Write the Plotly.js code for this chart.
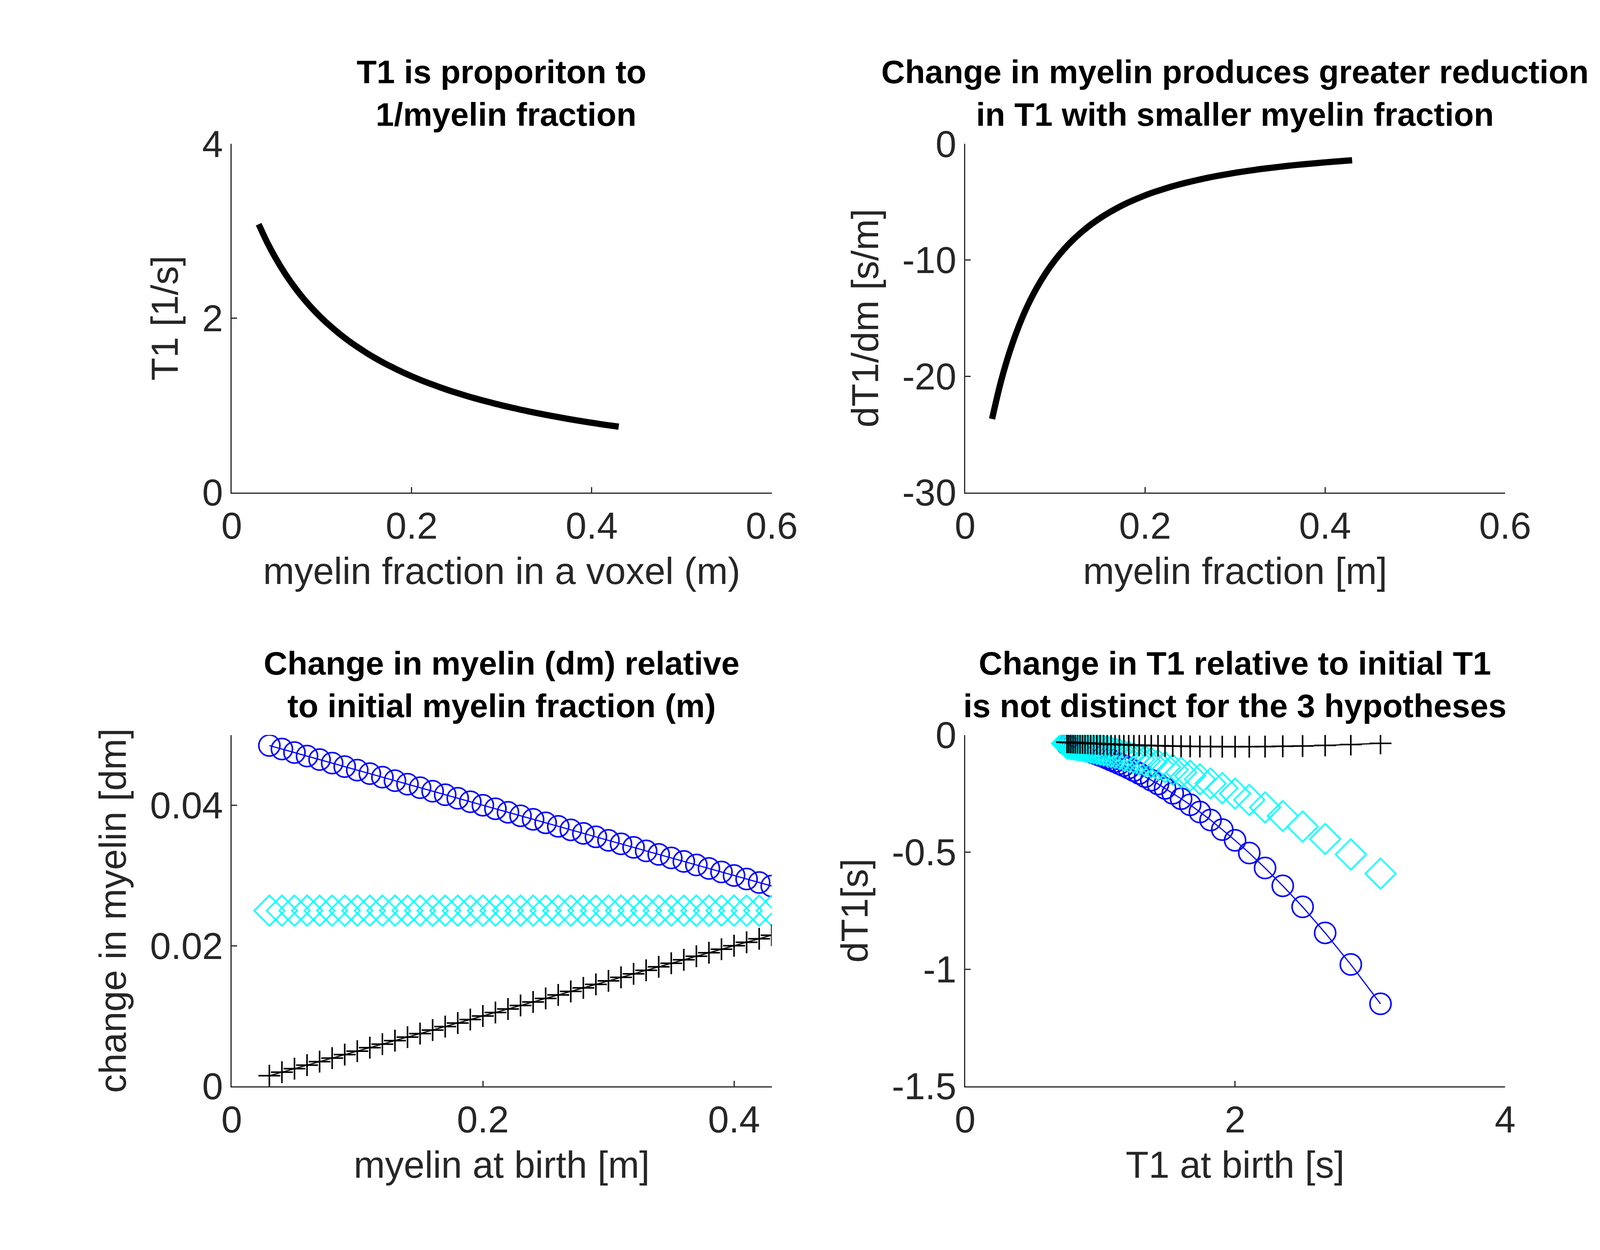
<html><head><script src="https://cdn.plot.ly/plotly-3.0.1.min.js"></script></head><body style="margin:0">
<div id="g" style="width:4267px;height:3200px"></div>
<script>
const m=[0.03,0.04,0.05,0.06,0.07,0.08,0.09,0.10,0.11,0.12,0.13,0.14,0.15,0.16,0.17,0.18,0.19,0.20,0.21,0.22,0.23,0.24,0.25,0.26,0.27,0.28,0.29,0.30,0.31,0.32,0.33,0.34,0.35,0.36,0.37,0.38,0.39,0.40,0.41,0.42,0.43];
const T1=[3.077,2.857,2.667,2.5,2.353,2.222,2.105,2.0,1.905,1.818,1.739,1.667,1.6,1.538,1.481,1.429,1.379,1.333,1.290,1.25,1.212,1.176,1.143,1.111,1.081,1.053,1.026,1.0,0.976,0.952,0.930,0.909,0.889,0.870,0.851,0.833,0.816,0.8,0.784,0.769,0.755];
const dT1dm=[-23.67,-20.41,-17.78,-15.63,-13.84,-12.35,-11.08,-10.0,-9.07,-8.26,-7.56,-6.94,-6.4,-5.92,-5.49,-5.10,-4.76,-4.44,-4.16,-3.91,-3.67,-3.46,-3.27,-3.09,-2.92,-2.77,-2.63,-2.5,-2.38,-2.27,-2.16,-2.07,-1.98,-1.89,-1.81,-1.74,-1.67,-1.6,-1.54,-1.48,-1.42];
const dmCircle=[0.0485,0.048,0.0475,0.047,0.0465,0.046,0.0455,0.045,0.0445,0.044,0.0435,0.043,0.0425,0.042,0.0415,0.041,0.0405,0.04,0.0395,0.039,0.0385,0.038,0.0375,0.037,0.0365,0.036,0.0355,0.035,0.0345,0.034,0.0335,0.033,0.0325,0.032,0.0315,0.031,0.0305,0.03,0.0295,0.029,0.0285];
const dmDiamond=[0.025,0.025,0.025,0.025,0.025,0.025,0.025,0.025,0.025,0.025,0.025,0.025,0.025,0.025,0.025,0.025,0.025,0.025,0.025,0.025,0.025,0.025,0.025,0.025,0.025,0.025,0.025,0.025,0.025,0.025,0.025,0.025,0.025,0.025,0.025,0.025,0.025,0.025,0.025,0.025,0.025];
const dmPlus=[0.0015,0.002,0.0025,0.003,0.0035,0.004,0.0045,0.005,0.0055,0.006,0.0065,0.007,0.0075,0.008,0.0085,0.009,0.0095,0.01,0.0105,0.011,0.0115,0.012,0.0125,0.013,0.0135,0.014,0.0145,0.015,0.0155,0.016,0.0165,0.017,0.0175,0.018,0.0185,0.019,0.0195,0.02,0.0205,0.021,0.0215];
const dT1Circle=[-1.148,-0.980,-0.845,-0.734,-0.644,-0.568,-0.504,-0.45,-0.404,-0.363,-0.329,-0.298,-0.272,-0.249,-0.228,-0.209,-0.193,-0.178,-0.164,-0.152,-0.141,-0.131,-0.123,-0.114,-0.107,-0.100,-0.093,-0.0875,-0.082,-0.077,-0.072,-0.068,-0.064,-0.060,-0.057,-0.054,-0.051,-0.048,-0.045,-0.043,-0.040];
const dT1Diamond=[-0.592,-0.510,-0.444,-0.391,-0.346,-0.309,-0.277,-0.25,-0.227,-0.207,-0.189,-0.174,-0.16,-0.148,-0.137,-0.128,-0.119,-0.111,-0.104,-0.098,-0.092,-0.087,-0.082,-0.077,-0.073,-0.069,-0.066,-0.0625,-0.060,-0.057,-0.054,-0.052,-0.050,-0.047,-0.045,-0.044,-0.042,-0.040,-0.039,-0.037,-0.036];
const dT1Plus=[-0.0355,-0.0408,-0.0444,-0.0469,-0.0484,-0.0494,-0.0499,-0.05,-0.0499,-0.0496,-0.0491,-0.0486,-0.048,-0.0474,-0.0467,-0.0459,-0.0452,-0.0444,-0.0437,-0.0430,-0.0422,-0.0415,-0.0408,-0.0402,-0.0394,-0.0388,-0.0381,-0.0375,-0.0369,-0.0363,-0.0357,-0.0352,-0.0346,-0.0340,-0.0335,-0.0331,-0.0326,-0.032,-0.0316,-0.0311,-0.0305];
const titles=["<b>T1 is proporiton to<br> 1/myelin fraction</b>","<b>Change in myelin produces greater reduction<br>in T1 with smaller myelin fraction</b>","<b>Change in myelin (dm) relative<br>to initial myelin fraction (m)</b>","<b>Change in T1 relative to initial T1<br>is not distinct for the 3 hypotheses</b>"];

const blue='#0000ff', cyan='#00ffff';
const mk=(sym,c,s)=>({symbol:sym,size:s,color:c,line:{color:c,width:4}});
const traces=[
 {x:m,y:T1,mode:'lines',line:{color:'black',width:16,shape:'spline'},xaxis:'x',yaxis:'y'},
 {x:m,y:dT1dm,mode:'lines',line:{color:'black',width:16,shape:'spline'},xaxis:'x2',yaxis:'y2'},
 {x:m,y:dmCircle,mode:'lines+markers',line:{color:blue,width:3},marker:mk('circle-open',blue,54),xaxis:'x3',yaxis:'y3'},
 {x:m,y:dmDiamond,mode:'markers',marker:mk('diamond-open',cyan,60),xaxis:'x3',yaxis:'y3'},
 {x:m,y:dmPlus,mode:'lines+markers',line:{color:'black',width:3},marker:mk('cross-thin-open','black',40),xaxis:'x3',yaxis:'y3'},
 {x:T1,y:dT1Circle,mode:'lines+markers',line:{color:blue,width:3},marker:mk('circle-open',blue,54),xaxis:'x4',yaxis:'y4'},
 {x:T1,y:dT1Diamond,mode:'markers',marker:mk('diamond-open',cyan,60),xaxis:'x4',yaxis:'y4'},
 {x:T1,y:dT1Plus,mode:'lines+markers',line:{color:'black',width:3},marker:mk('cross-thin-open','black',40),xaxis:'x4',yaxis:'y4'}
];
const F='Liberation Sans, Arial, sans-serif', tc='#262626';
function ax(dom,anchor,range,ticks,title,labels){const a={domain:dom,anchor:anchor,range:range,tickvals:ticks,showgrid:false,zeroline:false,showline:true,linecolor:tc,linewidth:3,ticks:'inside',ticklen:14,tickwidth:3,tickcolor:tc,tickfont:{family:F,size:96,color:tc},title:{text:title,font:{family:F,size:96,color:tc},standoff:30},automargin:false};if(labels)a.ticktext=labels;return a;}
const X1=[0.139,0.463],X2=[0.579,0.903],Y1=[0.606,0.885],Y2=[0.131,0.412];
const layout={width:4267,height:3200,paper_bgcolor:'white',plot_bgcolor:'white',showlegend:false,margin:{l:0,r:0,t:0,b:0},
 xaxis:ax(X1,'y',[0,0.6],[0,0.2,0.4,0.6],'myelin fraction in a voxel (m)'),
 yaxis:ax(Y1,'x',[0,4],[0,2,4],'T1 [1/s]'),
 xaxis2:ax(X2,'y2',[0,0.6],[0,0.2,0.4,0.6],'myelin fraction [m]'),
 yaxis2:ax(Y1,'x2',[-30,0],[-30,-20,-10,0],'dT1/dm [s/m]',['-30','-20','-10','0']),
 xaxis3:ax(X1,'y3',[0,0.43],[0,0.2,0.4],'myelin at birth [m]'),
 yaxis3:ax(Y2,'x3',[0,0.05],[0,0.02,0.04],'change in myelin [dm]'),
 xaxis4:ax(X2,'y4',[0,4],[0,2,4],'T1 at birth [s]'),
 yaxis4:ax(Y2,'x4',[-1.5,0],[-1.5,-1,-0.5,0],'dT1[s]',['-1.5','-1','-0.5','0']),
 annotations:[[X1,Y1],[X2,Y1],[X1,Y2],[X2,Y2]].map((d,i)=>({text:titles[i],xref:'paper',yref:'paper',x:(d[0][0]+d[0][1])/2,y:d[1][1]+0.008,xanchor:'center',yanchor:'bottom',showarrow:false,font:{family:F,size:84,color:'black'}}))
};
Plotly.newPlot('g',traces,layout,{staticPlot:true});
</script></body></html>
